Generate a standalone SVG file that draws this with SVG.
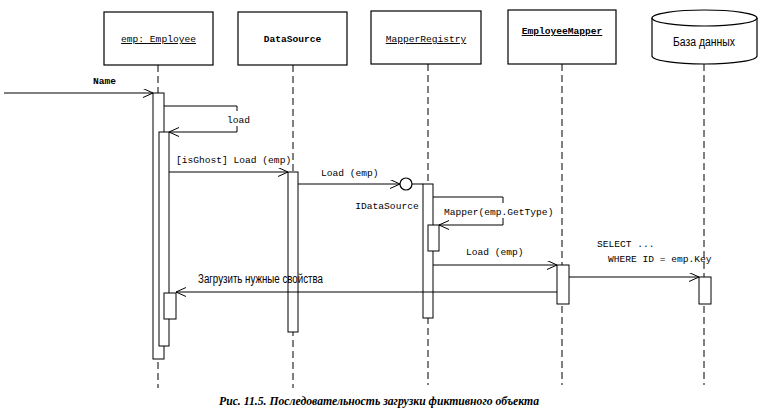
<svg xmlns="http://www.w3.org/2000/svg" width="764" height="415" viewBox="0 0 764 415">
<style>
.box{fill:#fff;stroke:#000;stroke-width:1.2}
.life{stroke:#000;stroke-width:1;stroke-dasharray:7,4;fill:none}
.act{fill:#fff;stroke:#000;stroke-width:1}
.msg{stroke:#000;stroke-width:1;fill:none}
.mono{font-family:"Liberation Mono","DejaVu Sans Mono",monospace;font-size:9.6px;fill:#000}
.sans{font-family:"Liberation Sans",Arial,sans-serif;font-size:12px;fill:#000}
.ul{text-decoration:underline}
.bg{fill:#fff;stroke:none}
</style>
<defs>
<marker id="arr" markerUnits="userSpaceOnUse" markerWidth="12" markerHeight="10" refX="10" refY="4.5" orient="auto">
<path d="M0,0 L10,4.5 L0,9" fill="none" stroke="#000" stroke-width="1"/>
</marker>
</defs>
<rect width="764" height="415" fill="#fff"/>

<g id="emp">
<rect class="box" x="104" y="12" width="109" height="53"/>
<text class="mono ul" x="158.5" y="42" text-anchor="middle">emp: Employee</text>
<line class="life" x1="158" y1="65" x2="158" y2="388"/>
<rect class="act" x="153" y="93" width="11" height="266"/>
<rect class="act" x="159" y="132" width="10" height="214"/>
<rect class="act" x="164" y="293" width="12" height="26"/>
</g>

<g id="datasource">
<rect class="box" x="238" y="12" width="109" height="53"/>
<text class="mono" x="292.5" y="42" text-anchor="middle" font-weight="bold">DataSource</text>
<line class="life" x1="293" y1="65" x2="293" y2="388"/>
<rect class="act" x="288" y="172" width="10" height="160"/>
</g>

<g id="mapperregistry">
<rect class="box" x="371" y="11" width="110" height="53"/>
<text class="mono ul" x="426" y="42" text-anchor="middle">MapperRegistry</text>
<line class="life" x1="428" y1="64" x2="428" y2="385"/>
<rect class="act" x="423" y="184" width="10" height="134"/>
<rect class="act" x="428" y="225" width="11" height="26"/>
<circle cx="406" cy="184" r="6" fill="#fff" stroke="#000" stroke-width="1.2"/>
<text class="mono" x="387" y="209" text-anchor="middle">IDataSource</text>
</g>

<g id="employeemapper">
<rect class="box" x="508" y="10" width="108" height="54"/>
<text class="mono ul" x="562" y="34" text-anchor="middle" font-weight="bold">EmployeeMapper</text>
<line class="life" x1="562" y1="64" x2="562" y2="385"/>
<rect class="act" x="557" y="265" width="12" height="39"/>
</g>

<g id="database">
<path class="box" d="M652,18 L652,56 A52.5,8 0 0 0 757,56 L757,18"/>
<ellipse class="box" cx="704.5" cy="18" rx="52.5" ry="8"/>
<text class="sans" x="704" y="46" text-anchor="middle" textLength="62" lengthAdjust="spacingAndGlyphs">База данных</text>
<line class="life" x1="704" y1="64" x2="704" y2="385"/>
<rect class="act" x="699" y="277" width="12" height="27"/>
</g>

<g id="connectors">
<line class="msg" x1="4" y1="93" x2="153" y2="93" marker-end="url(#arr)"/>
<text class="mono" x="93" y="84" font-weight="bold">Name</text>

<polyline class="msg" points="164,106 237,106 237,132 169,132" marker-end="url(#arr)"/>
<rect class="bg" x="226" y="111" width="23" height="15"/>
<text class="mono" x="227" y="123">load</text>

<line class="msg" x1="169" y1="172" x2="288" y2="172" marker-end="url(#arr)"/>
<text class="mono" x="176" y="163">[isGhost] Load (emp)</text>

<line class="msg" x1="298" y1="184" x2="400" y2="184" marker-end="url(#arr)"/>
<line class="msg" x1="412" y1="184" x2="423" y2="184"/>
<text class="mono" x="321" y="176">Load (emp)</text>

<polyline class="msg" points="433,197 503,197 503,225 439,225" marker-end="url(#arr)"/>
<rect class="bg" x="443" y="203" width="111" height="15"/>
<text class="mono" x="444" y="215">Mapper(emp.GetType)</text>

<line class="msg" x1="433" y1="265" x2="557" y2="265" marker-end="url(#arr)"/>
<text class="mono" x="466" y="255">Load (emp)</text>

<line class="msg" x1="569" y1="277" x2="699" y2="277" marker-end="url(#arr)"/>
<text class="mono" x="597" y="247">SELECT ...</text>
<text class="mono" x="608" y="262">WHERE ID = emp.Key</text>

<line class="msg" x1="557" y1="292" x2="176" y2="292" marker-end="url(#arr)"/>
<text class="sans" x="198" y="283" textLength="125" lengthAdjust="spacingAndGlyphs">Загрузить нужные свойства</text>
</g>

<text x="219" y="405" font-family="'Liberation Serif','Times New Roman',serif" font-style="italic" font-weight="bold" font-size="12" textLength="320" lengthAdjust="spacingAndGlyphs">Рис. 11.5. Последовательность загрузки фиктивного объекта</text>
</svg>
